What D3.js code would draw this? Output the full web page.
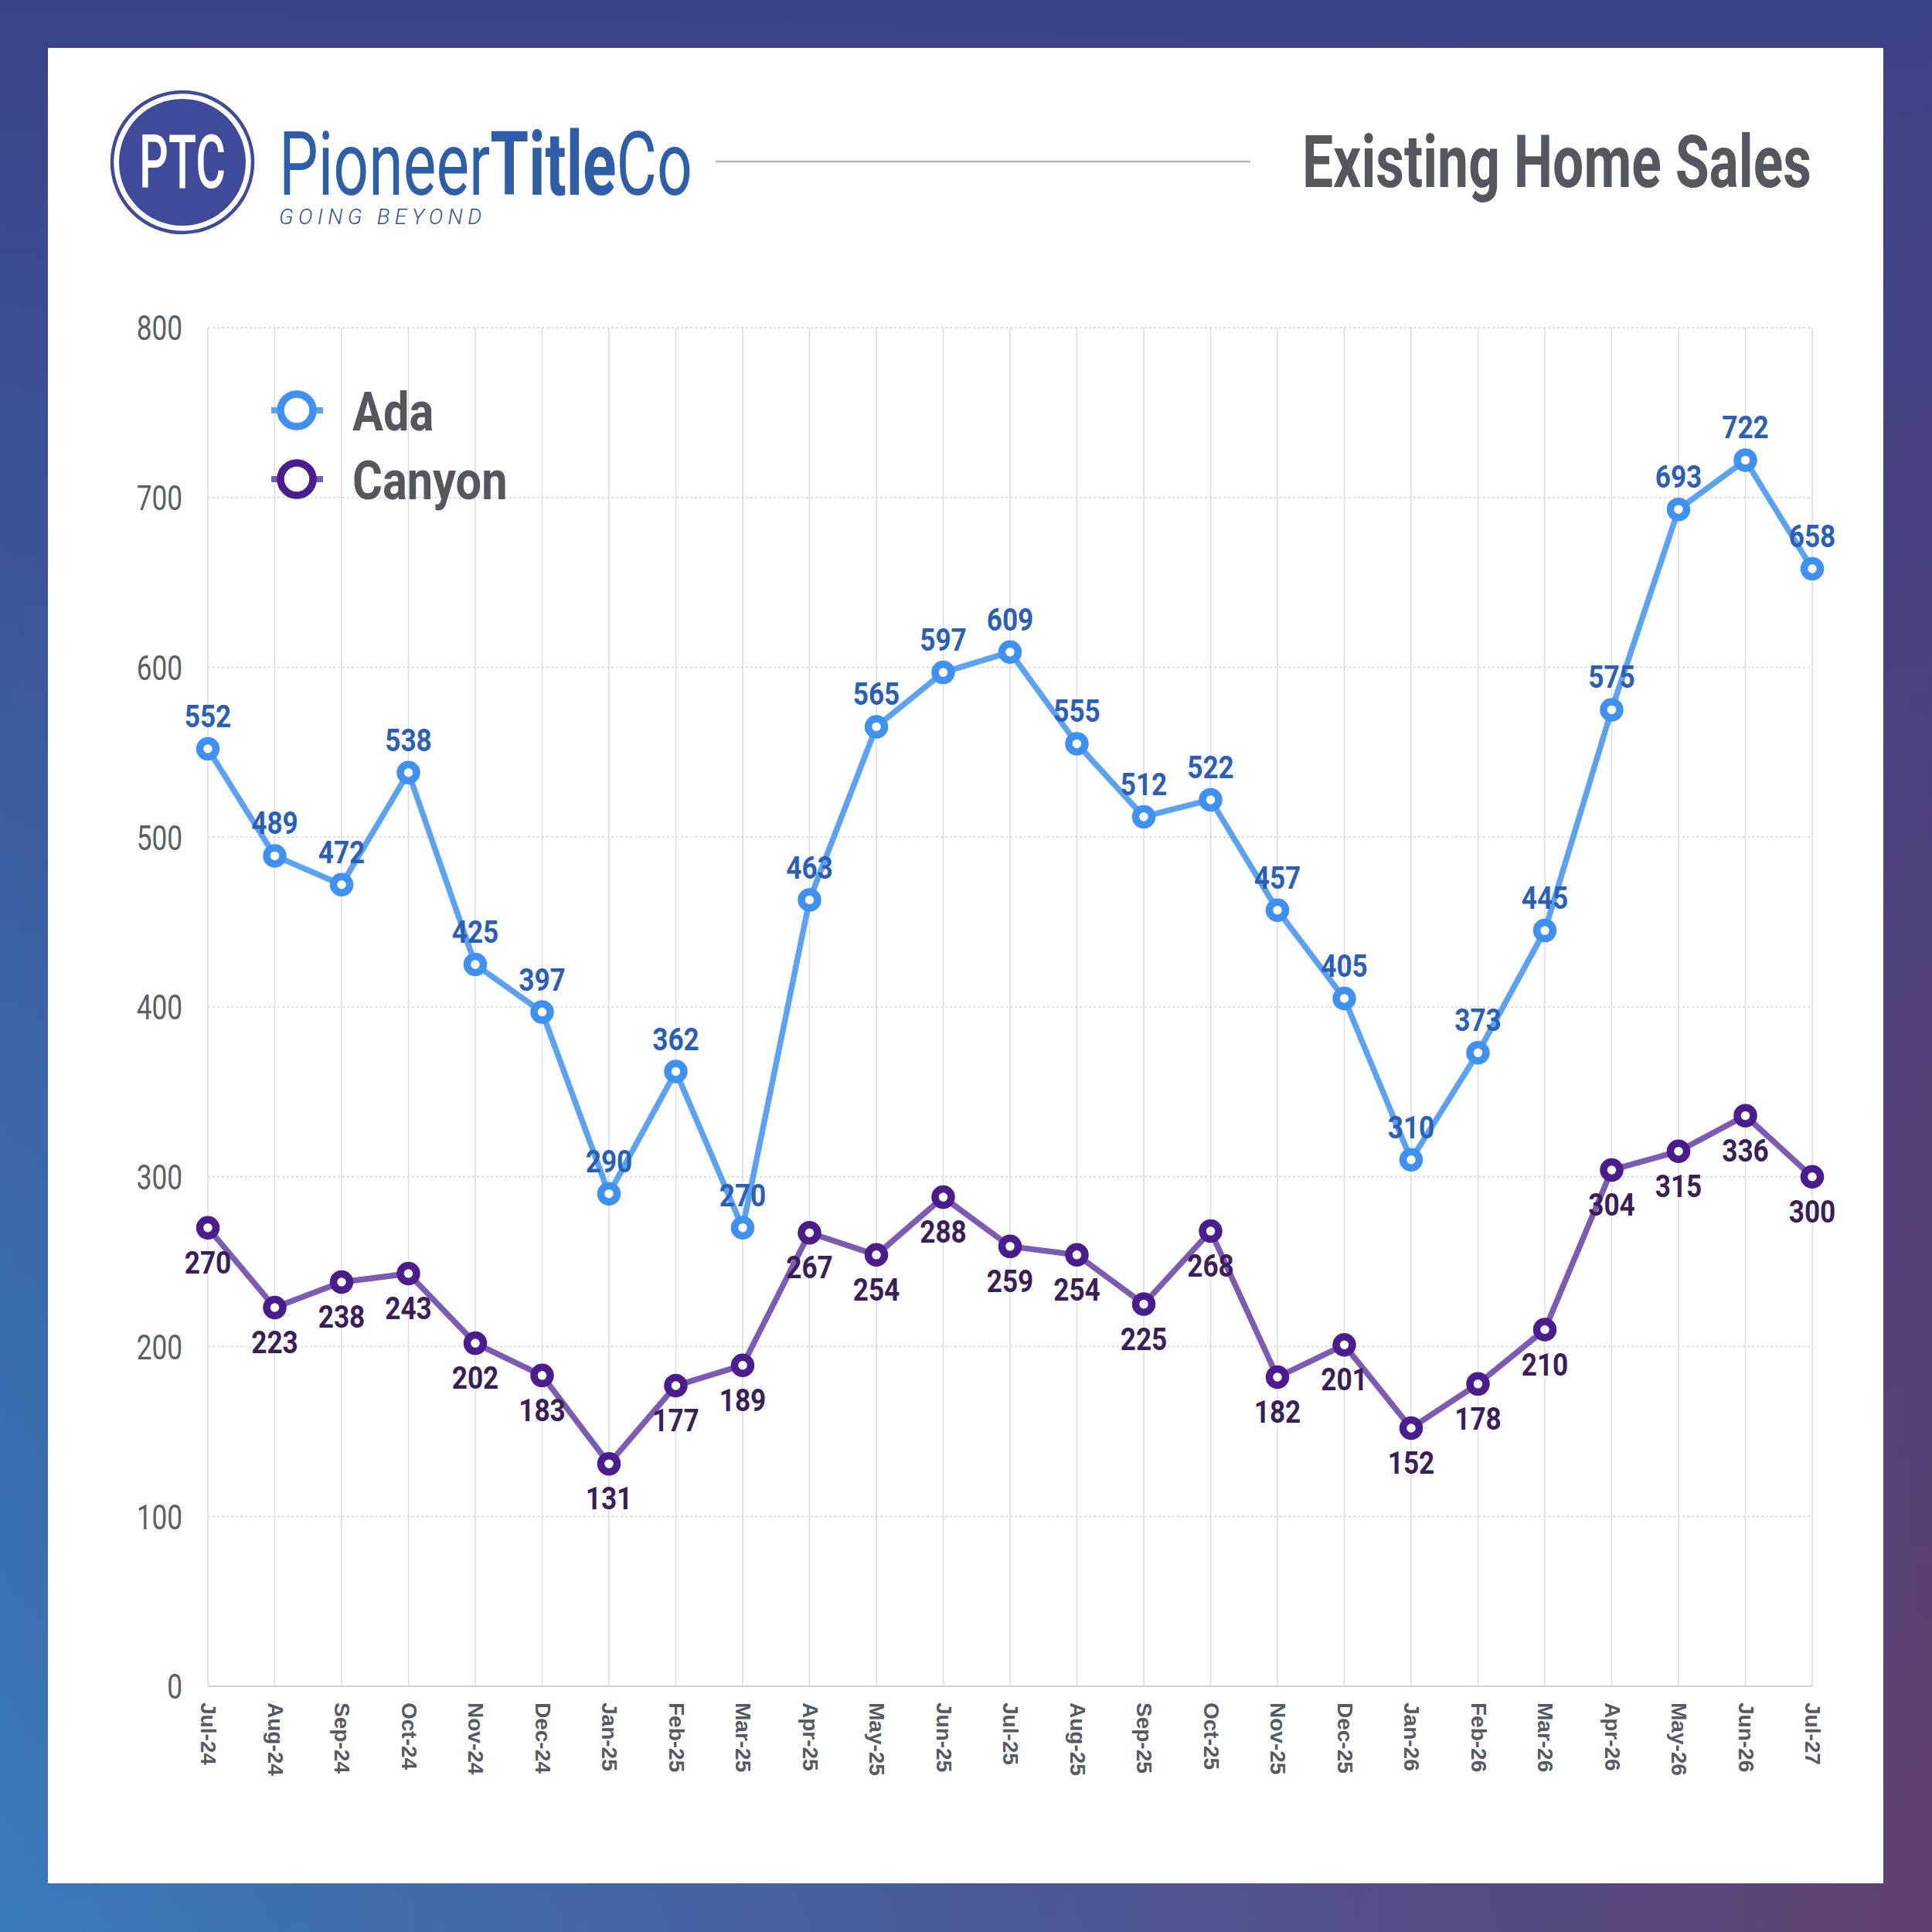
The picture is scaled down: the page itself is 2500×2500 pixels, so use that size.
<!DOCTYPE html>
<html>
<head>
<meta charset="utf-8">
<script src="https://cdn.jsdelivr.net/npm/d3@7/dist/d3.min.js"></script>
<style>
html,body{margin:0;padding:0;background:#fff;}
svg{display:block;}
</style>
</head>
<body>
<svg id="chart" width="2500" height="2500"></svg>
<script>
// ---- data ----
const months = ["Jul-24","Aug-24","Sep-24","Oct-24","Nov-24","Dec-24","Jan-25","Feb-25","Mar-25","Apr-25","May-25","Jun-25","Jul-25","Aug-25","Sep-25","Oct-25","Nov-25","Dec-25","Jan-26","Feb-26","Mar-26","Apr-26","May-26","Jun-26","Jul-27"];
const adaValues = [552,489,472,538,425,397,290,362,270,463,565,597,609,555,512,522,457,405,310,373,445,575,693,722,658];
const canyonValues = [270,223,238,243,202,183,131,177,189,267,254,288,259,254,225,268,182,201,152,178,210,304,315,336,300];
const yTicks = [0,100,200,300,400,500,600,700,800];
const seriesNames = ["Ada","Canyon"];
const chartTitle = "Existing Home Sales";

const svg = d3.select("#chart");
const defs = svg.append("defs");

// background gradients
const g1 = defs.append("linearGradient").attr("id","bgH").attr("x1","0").attr("y1","0").attr("x2","1").attr("y2","0");
g1.append("stop").attr("offset","0").attr("stop-color","#3a7abb");
g1.append("stop").attr("offset","0.5").attr("stop-color","#4a5a98");
g1.append("stop").attr("offset","1").attr("stop-color","#5f406f");
const g2 = defs.append("linearGradient").attr("id","bgV").attr("x1","0").attr("y1","0").attr("x2","0").attr("y2","1");
g2.append("stop").attr("offset","0").attr("stop-color","#3c4287").attr("stop-opacity",1);
g2.append("stop").attr("offset","0.55").attr("stop-color","#3c4287").attr("stop-opacity",0.35);
g2.append("stop").attr("offset","1").attr("stop-color","#3c4287").attr("stop-opacity",0);

svg.append("rect").attr("width",2500).attr("height",2500).attr("fill","url(#bgH)");
svg.append("rect").attr("width",2500).attr("height",2500).attr("fill","url(#bgV)");
svg.append("rect").attr("x",62).attr("y",62).attr("width",2375).attr("height",2375).attr("fill","#ffffff");

// ---- header / logo ----
const logo = svg.append("g");
logo.append("circle").attr("cx",236).attr("cy",210).attr("r",91).attr("fill","none").attr("stroke","#3f4a9b").attr("stroke-width",4.5);
logo.append("circle").attr("cx",236).attr("cy",210).attr("r",82).attr("fill","#3f4a9b");
logo.append("text").attr("x",180).attr("y",243).attr("textLength",112).attr("lengthAdjust","spacingAndGlyphs")
  .attr("font-family","Roboto").attr("font-weight",500).attr("font-size",96).attr("fill","#ffffff").text("PTC");

const brandColor = "#2f5ea9";
const brand = logo.append("text").attr("transform","translate(361,252) scale(0.7,1)")
  .attr("font-family","Roboto").attr("font-size",115).attr("fill",brandColor);
brand.append("tspan").attr("font-weight",400).text("Pioneer");
brand.append("tspan").attr("font-weight",700).text("Title");
brand.append("tspan").attr("font-weight",400).text("Co");
logo.append("text").attr("x",361).attr("y",290).attr("textLength",262).attr("lengthAdjust","spacing")
  .attr("font-family","Roboto").attr("font-style","italic").attr("font-weight",300).attr("font-size",28)
  .attr("fill","#2f4f9a").text("GOING BEYOND");

svg.append("line").attr("x1",926).attr("x2",1618).attr("y1",209).attr("y2",209).attr("stroke","#b4b4b4").attr("stroke-width",2.5);

svg.append("text").attr("transform","translate(2344,242) scale(0.76,1)").attr("text-anchor","end")
  .attr("font-family","Roboto").attr("font-weight",700).attr("font-size",94).attr("fill","#54575e").text(chartTitle);

// ---- scales ----
const x = d3.scalePoint().domain(months).range([269, 2345]);
const y = d3.scaleLinear().domain([0, 800]).range([2182, 424]);

const grid = svg.append("g");
grid.selectAll("line.v").data(months).join("line").attr("class","v")
  .attr("x1",d=>x(d)).attr("x2",d=>x(d)).attr("y1",y(800)).attr("y2",y(0))
  .attr("stroke","#dedede").attr("stroke-width",1.6);
grid.selectAll("line.h").data(yTicks.filter(t=>t>0)).join("line").attr("class","h")
  .attr("x1",x(months[0])).attr("x2",x(months[months.length-1])).attr("y1",d=>y(d)).attr("y2",d=>y(d))
  .attr("stroke","#d6d6d6").attr("stroke-width",1.6).attr("stroke-dasharray","3,3");
grid.append("line").attr("x1",x(months[0])).attr("x2",x(months[months.length-1])).attr("y1",y(0)).attr("y2",y(0))
  .attr("stroke","#d4d4d4").attr("stroke-width",2);

// y axis labels
const yAxis = svg.append("g").attr("transform","translate(236,0)")
  .call(d3.axisLeft(y).tickValues(yTicks).tickSize(0).tickPadding(0));
yAxis.select(".domain").remove();
yAxis.selectAll(".tick text")
  .attr("font-family","Roboto").attr("font-size",44).attr("font-weight",400).attr("fill","#5a5e66")
  .attr("text-anchor","end").attr("dy","0.36em").attr("x",0)
  .attr("transform","scale(0.8,1)");

// x axis labels
const xAxis = svg.append("g").attr("transform",`translate(0,${y(0)})`)
  .call(d3.axisBottom(x).tickSize(0).tickPadding(0));
xAxis.select(".domain").remove();
xAxis.selectAll(".tick text")
  .attr("font-family","Liberation Sans, Arial, sans-serif").attr("font-size",28).attr("font-weight",700).attr("fill","#555a62")
  .attr("text-anchor","start").attr("y",0).attr("x",0).attr("dy","0")
  .attr("dominant-baseline","central")
  .attr("transform","translate(0,21) rotate(90)");

// ---- series ----
const series = [
  {name: seriesNames[0], values: adaValues, line:"#5ba3f2", ring:"#3f91f1", label:"#2b5fb5", pos:"above"},
  {name: seriesNames[1], values: canyonValues, line:"#7c5cb2", ring:"#4b1c8e", label:"#3a1e58", pos:"below"}
];

const lineGen = d3.line().x((d,i)=>x(months[i])).y(d=>y(d));

series.forEach(s => {
  const g = svg.append("g");
  g.append("path").datum(s.values).attr("d",lineGen).attr("fill","none")
    .attr("stroke",s.line).attr("stroke-width",7.5).attr("stroke-linejoin","round");
  g.selectAll("circle").data(s.values).join("circle")
    .attr("cx",(d,i)=>x(months[i])).attr("cy",d=>y(d)).attr("r",10.5)
    .attr("fill","#ffffff").attr("stroke",s.ring).attr("stroke-width",9.5);
  g.selectAll("text").data(s.values).join("text")
    .attr("transform",(d,i)=>`translate(${x(months[i])},${y(d) + (s.pos==="above" ? -28 : 59)}) scale(0.86,1)`)
    .attr("text-anchor","middle")
    .attr("font-family","Roboto").attr("font-weight",700).attr("font-size",41)
    .attr("fill",s.label).text(d=>d);
});

// ---- legend ----
const legend = svg.append("g");
const legendY = [531, 620];
series.forEach((s,i) => {
  const ly = legendY[i];
  legend.append("line").attr("x1",351).attr("x2",418).attr("y1",ly).attr("y2",ly)
    .attr("stroke",s.line).attr("stroke-width",8);
  legend.append("circle").attr("cx",384).attr("cy",ly).attr("r",21).attr("fill","#fff")
    .attr("stroke",s.ring).attr("stroke-width",9.5);
  legend.append("text").attr("transform",`translate(456,${ly+26}) scale(0.85,1)`)
    .attr("font-family","Roboto").attr("font-weight",700).attr("font-size",70).attr("fill","#54575e").text(s.name);
});
</script>
</body>
</html>
